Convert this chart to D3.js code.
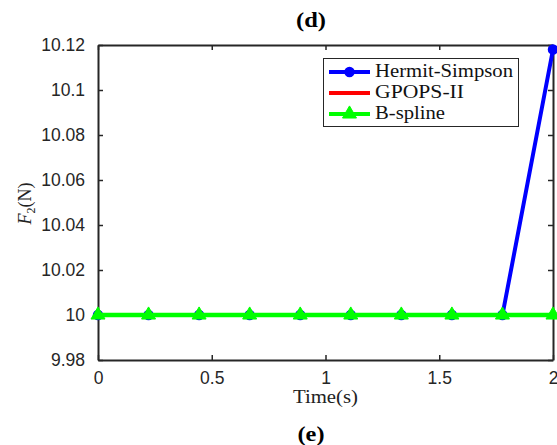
<!DOCTYPE html>
<html>
<head>
<meta charset="utf-8">
<script src="https://cdn.jsdelivr.net/npm/d3@7"></script>
<style>
  html, body { margin: 0; padding: 0; background: #fff; }
  svg { display: block; }
</style>
</head>
<body>
<svg id="chart" width="557" height="445"></svg>
<script>
// Time samples (s)
const time = [0, 0.2222, 0.4444, 0.6667, 0.8889, 1.1111, 1.3333, 1.5556, 1.7778, 2];
// F2 (N) for each method
const hermiteSimpson = [10, 10, 10, 10, 10, 10, 10, 10, 10, 10.118];
const gpops = [10, 10, 10, 10, 10, 10, 10, 10, 10, 10];
const bspline = [10, 10, 10, 10, 10, 10, 10, 10, 10, 10];

const xTicks = [0, 0.5, 1, 1.5, 2];
const xTickLabels = ["0", "0.5", "1", "1.5", "2"];
const yTicks = [9.98, 10, 10.02, 10.04, 10.06, 10.08, 10.1, 10.12];
const yTickLabels = ["9.98", "10", "10.02", "10.04", "10.06", "10.08", "10.1", "10.12"];

const legendNames = ["Hermit-Simpson", "GPOPS-II", "B-spline"];

const svg = d3.select("#chart");
const plot = { left: 98, right: 553, top: 45, bottom: 360 };
const axisColor = "#262626";

const x = d3.scaleLinear().domain([0, 2]).range([plot.left, plot.right]);
const y = d3.scaleLinear().domain([9.98, 10.12]).range([plot.bottom, plot.top]);

// Axes with inward ticks on all four sides (boxed axes)
function styleAxis(g) {
  g.select(".domain").attr("stroke", axisColor).attr("stroke-width", 2);
  g.selectAll(".tick line").attr("stroke", axisColor).attr("stroke-width", 1.5);
  g.selectAll("text")
    .attr("fill", axisColor)
    .style("font-family", "'Liberation Sans', Arial, sans-serif")
    .style("font-size", "17.5px");
}

const xMap = new Map(xTicks.map((t, i) => [t, xTickLabels[i]]));
const yMap = new Map(yTicks.map((t, i) => [t, yTickLabels[i]]));

svg.append("g")
  .attr("transform", `translate(0,${plot.bottom})`)
  .call(d3.axisBottom(x).tickValues(xTicks).tickFormat(d => xMap.get(d))
    .tickSizeInner(-5).tickSizeOuter(0).tickPadding(12))
  .call(styleAxis);

svg.append("g")
  .attr("transform", `translate(0,${plot.top})`)
  .call(d3.axisTop(x).tickValues(xTicks).tickFormat("")
    .tickSizeInner(-5).tickSizeOuter(0))
  .call(styleAxis);

svg.append("g")
  .attr("transform", `translate(${plot.left},0)`)
  .call(d3.axisLeft(y).tickValues(yTicks).tickFormat(d => yMap.get(d))
    .tickSizeInner(-5).tickSizeOuter(0).tickPadding(13))
  .call(styleAxis);

svg.append("g")
  .attr("transform", `translate(${plot.right},0)`)
  .call(d3.axisRight(y).tickValues(yTicks).tickFormat("")
    .tickSizeInner(-5).tickSizeOuter(0))
  .call(styleAxis);

// Series
const line = d3.line().x(d => x(d[0])).y(d => y(d[1]));
const zip = vals => time.map((t, i) => [t, vals[i]]);

const blue = "#0000ff", red = "#ff0000", green = "#00ff00";

// Hermit-Simpson
svg.append("path").datum(zip(hermiteSimpson))
  .attr("d", line).attr("fill", "none").attr("stroke", blue).attr("stroke-width", 4)
  .attr("stroke-linejoin", "round");
svg.append("g").selectAll("circle").data(zip(hermiteSimpson)).join("circle")
  .attr("cx", d => x(d[0])).attr("cy", d => y(d[1])).attr("r", 4.5)
  .attr("fill", blue).attr("stroke", blue).attr("stroke-width", 1.5);

// GPOPS-II
svg.append("path").datum(zip(gpops))
  .attr("d", line).attr("fill", "none").attr("stroke", red).attr("stroke-width", 4);

// B-spline
svg.append("path").datum(zip(bspline))
  .attr("d", line).attr("fill", "none").attr("stroke", green).attr("stroke-width", 4.5);
const tri = d3.symbol().type(d3.symbolTriangle).size(85);
svg.append("g").selectAll("path").data(zip(bspline)).join("path")
  .attr("transform", d => `translate(${x(d[0])},${y(d[1])})`)
  .attr("d", tri).attr("fill", green).attr("stroke", green).attr("stroke-width", 1);

// Legend
const lg = svg.append("g");
lg.append("rect").attr("x", 323.5).attr("y", 58.5).attr("width", 195).attr("height", 68)
  .attr("fill", "#fff").attr("stroke", axisColor).attr("stroke-width", 1);
const rowY = [72, 93, 114];
const textW = [138, 89, 70];
const colors = [blue, red, green];
legendNames.forEach((name, i) => {
  lg.append("line").attr("x1", 329).attr("x2", 370).attr("y1", rowY[i]).attr("y2", rowY[i])
    .attr("stroke", colors[i]).attr("stroke-width", 4);
  if (i === 0) {
    lg.append("circle").attr("cx", 349.5).attr("cy", rowY[i]).attr("r", 4.5)
      .attr("fill", blue).attr("stroke", blue).attr("stroke-width", 1.5);
  } else if (i === 2) {
    lg.append("path").attr("transform", `translate(349.5,${rowY[i]})`)
      .attr("d", tri).attr("fill", green).attr("stroke", green);
  }
  lg.append("text").attr("x", 375).attr("y", rowY[i] + 5)
    .attr("textLength", textW[i]).attr("lengthAdjust", "spacingAndGlyphs")
    .style("font-family", "'Liberation Serif', 'Times New Roman', serif")
    .style("font-size", "19px").attr("fill", "#111")
    .text(name);
});

// Axis labels
svg.append("text").attr("x", (plot.left + plot.right) / 2).attr("y", 403)
  .attr("text-anchor", "middle").attr("textLength", 65).attr("lengthAdjust", "spacingAndGlyphs")
  .style("font-family", "'Liberation Serif', 'Times New Roman', serif")
  .style("font-size", "18px").attr("fill", "#222")
  .text("Time(s)");

const yl = svg.append("text")
  .attr("transform", `translate(31,${(plot.top + plot.bottom) / 2 + 1}) rotate(-90)`)
  .attr("text-anchor", "middle")
  .style("font-family", "'Liberation Serif', 'Times New Roman', serif")
  .style("font-size", "18px").attr("fill", "#222");
yl.append("tspan").style("font-style", "italic").text("F");
yl.append("tspan").attr("dy", 4).style("font-size", "12px").text("2");
yl.append("tspan").attr("dy", -4).text("(N)");

// Panel captions
svg.append("text").attr("x", 311).attr("y", 27).attr("text-anchor", "middle")
  .attr("textLength", 30).attr("lengthAdjust", "spacingAndGlyphs")
  .style("font-family", "'Liberation Serif', 'Times New Roman', serif")
  .style("font-size", "22px").style("font-weight", "bold").attr("fill", "#000")
  .text("(d)");
svg.append("text").attr("x", 311).attr("y", 441).attr("text-anchor", "middle")
  .attr("textLength", 27).attr("lengthAdjust", "spacingAndGlyphs")
  .style("font-family", "'Liberation Serif', 'Times New Roman', serif")
  .style("font-size", "22px").style("font-weight", "bold").attr("fill", "#000")
  .text("(e)");
</script>
</body>
</html>
